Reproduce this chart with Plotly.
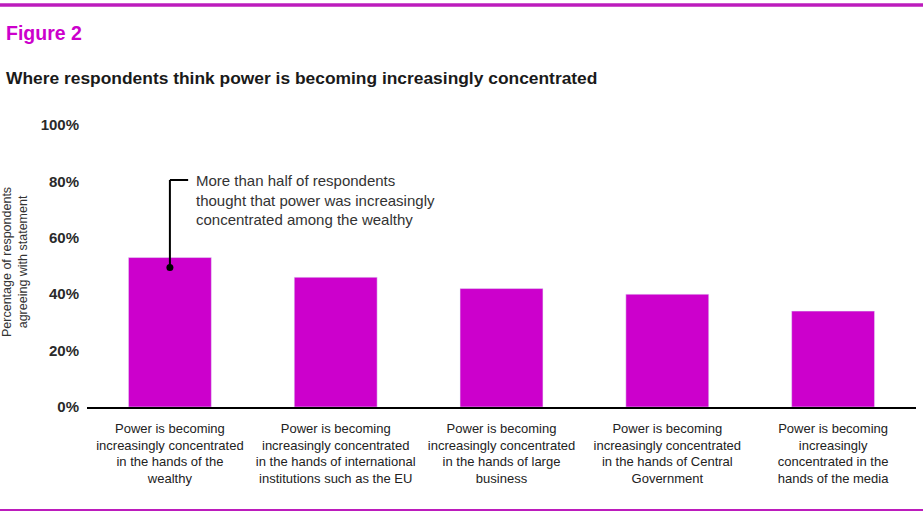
import plotly.graph_objects as go

categories = [
    "Power is becoming<br>increasingly concentrated<br>in the hands of the<br>wealthy",
    "Power is becoming<br>increasingly concentrated<br>in the hands of international<br>institutions such as the EU",
    "Power is becoming<br>increasingly concentrated<br>in the hands of large<br>business",
    "Power is becoming<br>increasingly concentrated<br>in the hands of Central<br>Government",
    "Power is becoming<br>increasingly<br>concentrated in the<br>hands of the media",
]
values = [53, 46, 42, 40, 34]
y_ticks = [0, 20, 40, 60, 80, 100]
y_ticklabels = [f"{v}%" for v in y_ticks]

BAR = "#CC00CC"
LINE = "#BC1CBC"
FONT = "Liberation Sans, Arial, sans-serif"

W, H = 923, 516
L, R, T, B = 87, 7, 125, 109
pw, ph = W - L - R, H - T - B

def px_x(px):
    return (px - L) / pw

def px_y(py):
    return (H - B - py) / ph

xs = list(range(len(categories)))

fig = go.Figure()
fig.add_trace(go.Bar(x=xs, y=values, marker_color=BAR, width=0.5, hoverinfo="y"))

# pointer dot on first bar
fig.add_trace(go.Scatter(x=[xs[0]], y=[values[0] - 3.5], mode="markers",
                         marker=dict(color="black", size=7), hoverinfo="skip"))

shapes = [
    dict(type="line", xref="x", yref="y", x0=xs[0], x1=xs[0], y0=values[0] - 3.5, y1=80.5,
         line=dict(color="black", width=2)),
    dict(type="line", xref="x", yref="y", x0=xs[0], x1=xs[0] + 0.11, y0=80.5, y1=80.5,
         line=dict(color="black", width=2)),
    dict(type="line", xref="paper", yref="paper", x0=px_x(0), x1=px_x(W), y0=px_y(5), y1=px_y(5),
         line=dict(color=LINE, width=3.5)),
    dict(type="line", xref="paper", yref="paper", x0=px_x(0), x1=px_x(W), y0=px_y(510), y1=px_y(510),
         line=dict(color=LINE, width=2)),
]

annotations = [
    dict(xref="paper", yref="paper", x=px_x(4), y=px_y(33), xanchor="left", yanchor="middle",
         text="<b>Figure 2</b>", showarrow=False, font=dict(family=FONT, size=19.5, color=BAR)),
    dict(xref="paper", yref="paper", x=px_x(4), y=px_y(78), xanchor="left", yanchor="middle",
         text="<b>Where respondents think power is becoming increasingly concentrated</b>",
         showarrow=False, font=dict(family=FONT, size=17.4, color="#1a1a1a")),
    dict(xref="paper", yref="paper", x=px_x(15), y=px_y(262), xanchor="center", yanchor="middle",
         text="Percentage of respondents<br>agreeing with statement", textangle=-90,
         showarrow=False, font=dict(family=FONT, size=12.5, color="#333333")),
    dict(xref="x", yref="y", x=xs[0] + 0.145, y=80.5, xanchor="left", yanchor="top",
         yshift=10, align="left",
         text="More than half of respondents<br>thought that power was increasingly<br>concentrated among the wealthy",
         showarrow=False, font=dict(family=FONT, size=15, color="#333333")),
]

fig.update_layout(
    width=W, height=H,
    margin=dict(l=L, r=R, t=T, b=B, pad=0),
    paper_bgcolor="white", plot_bgcolor="white",
    showlegend=False,
    shapes=shapes, annotations=annotations,
    font=dict(family=FONT, color="#333333"),
)
fig.update_xaxes(range=[-0.5, len(categories) - 0.5], tickvals=xs, ticktext=categories,
                 showgrid=False, zeroline=False, showline=True, linecolor="black", linewidth=2,
                 ticks="", ticklabelstandoff=8, tickfont=dict(family=FONT, size=13, color="#222222"),
                 fixedrange=True)
fig.update_yaxes(range=[0, 100], tickvals=y_ticks, ticktext=[f"<b>{t}</b>" for t in y_ticklabels],
                 showgrid=False, zeroline=False, showline=False, ticks="", ticklabelstandoff=7,
                 tickfont=dict(family=FONT, size=15, color="#2a2a2a"), fixedrange=True)

fig.write_html("out.html", config={"displayModeBar": False},
               post_script="document.body.style.margin='0';document.body.style.overflow='hidden';")
